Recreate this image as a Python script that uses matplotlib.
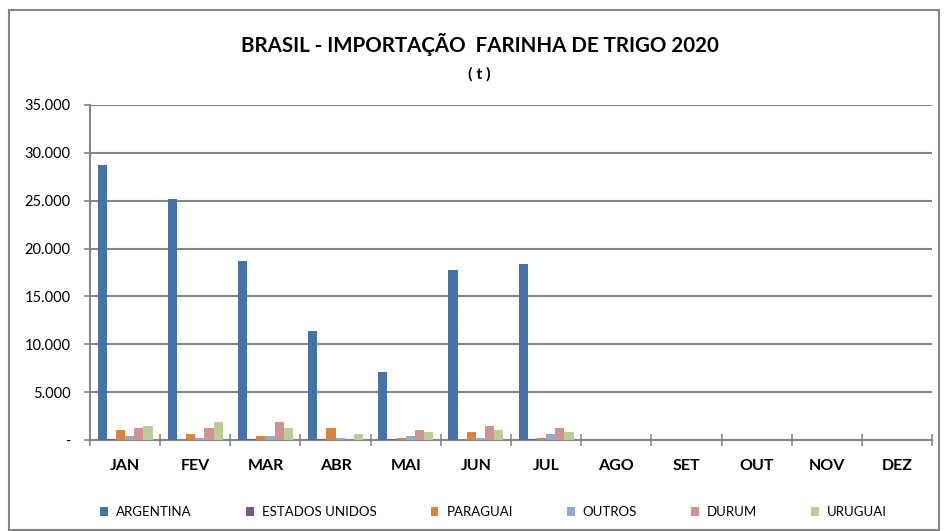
import numpy as np
import matplotlib
matplotlib.use("Agg")
import matplotlib.pyplot as plt
from matplotlib.patches import Rectangle
from matplotlib.ticker import FuncFormatter

plt.rcParams['font.family'] = ['Lato', 'DejaVu Sans']

# monthly imports (t)
meses = ['JAN', 'FEV', 'MAR', 'ABR', 'MAI', 'JUN', 'JUL', 'AGO', 'SET', 'OUT', 'NOV', 'DEZ']
origens = ['ARGENTINA', 'ESTADOS UNIDOS', 'PARAGUAI', 'OUTROS', 'DURUM', 'URUGUAI']
argentina = [28750, 25150, 18750, 11400, 7150, 17750, 18350]
estados_unidos = [100, 0, 100, 100, 100, 0, 100]
paraguai = [1000, 600, 400, 1250, 180, 800, 180]
outros = [380, 180, 380, 180, 380, 180, 590]
durum = [1250, 1250, 1880, 0, 1000, 1460, 1250]
uruguai = [1460, 1880, 1250, 600, 800, 1000, 800]
cores = ['#4572A7', '#71588F', '#DB843D', '#93A9CF', '#D19392', '#B9CD96']

series = [argentina, estados_unidos, paraguai, outros, durum, uruguai]

fig = plt.figure(figsize=(9.44, 5.31), dpi=100)
ax = fig.add_axes([90 / 944, 1 - 440 / 531, 842 / 944, 335 / 531])

x = np.arange(len(meses))
w = 0.131
for i, (nome, vals, cor) in enumerate(zip(origens, series, cores)):
    pos = x[:len(vals)] + (i - 2.5) * w
    ax.bar(pos, vals, width=w, color=cor, label=nome, zorder=3)

ax.set_xlim(-0.5, 11.5)
ax.set_ylim(0, 35000)
ax.set_yticks(np.arange(0, 35001, 5000))
ax.yaxis.set_major_formatter(FuncFormatter(
    lambda v, p: '-' if v == 0 else f'{int(v):,}'.replace(',', '.')))
ax.grid(axis='y', color='#868686', linewidth=1.5, zorder=0)

# categories: labels centred, tick marks on boundaries
ax.set_xticks(x)
ax.set_xticklabels(meses, fontsize=11.5, fontweight='bold')
ax.tick_params(axis='x', which='major', length=0, pad=14)
ax.set_xticks(np.arange(-0.5, 12, 1), minor=True)
ax.tick_params(axis='x', which='minor', direction='inout', length=9, width=1.2, color='#868686')
ax.tick_params(axis='y', length=4, width=1.2, color='#868686', labelsize=10.5, pad=10)

for s in ['top', 'right']:
    ax.spines[s].set_visible(False)
for s in ['left', 'bottom']:
    ax.spines[s].set_color('#868686')
    ax.spines[s].set_linewidth(1.5)

fig.text(0.508, 1 - 44 / 531, 'BRASIL - IMPORTAÇÃO  FARINHA DE TRIGO 2020',
         ha='center', va='center', fontsize=14.8, fontweight='bold')
fig.text(0.508, 1 - 74 / 531, '( t )', ha='center', va='center', fontsize=11.5, fontweight='bold')

fig.legend(loc='center', bbox_to_anchor=(0.523, 1 - 512 / 531), ncol=6, frameon=False,
           fontsize=9.5, handlelength=0.6, handleheight=0.6, handletextpad=0.6,
           columnspacing=4.1)

fig.patches.append(Rectangle((9 / 944, 1 / 531), 930 / 944, 520 / 531, transform=fig.transFigure,
                             fill=False, edgecolor='#868686', linewidth=1.5))

plt.savefig('out.png', dpi=100)
